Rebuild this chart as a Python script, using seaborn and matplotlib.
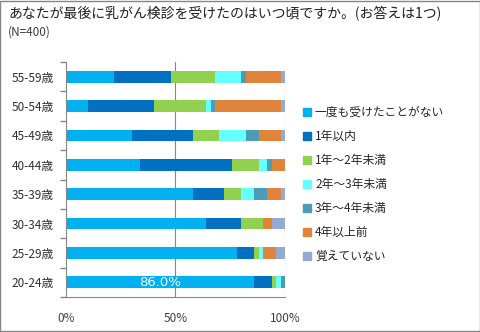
import matplotlib
matplotlib.use("Agg")
import matplotlib.pyplot as plt
from matplotlib.lines import Line2D
from matplotlib.patches import Rectangle
import seaborn as sns
import pandas as pd
import numpy as np

ages = ["55-59歳", "50-54歳", "45-49歳", "40-44歳", "35-39歳", "30-34歳", "25-29歳", "20-24歳"]
series = ["一度も受けたことがない", "1年以内", "1年～2年未満", "2年～3年未満",
          "3年～4年未満", "4年以上前", "覚えていない"]
never = [22, 10, 30, 34, 58, 64, 78, 86]
within1 = [26, 30, 28, 42, 14, 16, 8, 8]
y1to2 = [20, 24, 12, 12, 8, 10, 2, 2]
y2to3 = [12, 2, 12, 4, 6, 0, 2, 2]
y3to4 = [2, 2, 6, 2, 6, 0, 0, 2]
y4plus = [16, 30, 10, 6, 6, 4, 6, 0]
unknown = [2, 2, 2, 0, 2, 6, 4, 0]
colors = ["#00B0F0", "#0070C0", "#92D050", "#66FFFF", "#4A9DB4", "#E0843C", "#95A9D3"]

sns.set_theme(style="white")
plt.rcParams["font.family"] = ["Noto Sans CJK JP", "DejaVu Sans"]

values = [never, within1, y1to2, y2to3, y3to4, y4plus, unknown]
df = pd.DataFrame({s: v for s, v in zip(series, values)}, index=ages)
cum = df.cumsum(axis=1)

fig = plt.figure(figsize=(4.81, 3.32), dpi=100)
ax = fig.add_axes([66 / 481, 1 - 297 / 332, 219 / 481, 235 / 332])

# draw stacked bars: largest cumulative first
for i in range(len(series) - 1, -1, -1):
    s = series[i]
    d = pd.DataFrame({"age": ages, "val": cum[s].values})
    sns.barplot(data=d, x="val", y="age", order=ages, orient="h",
                color=colors[i], saturation=1, width=0.4, ax=ax, linewidth=0)

ax.set_xlim(0, 100)
ax.set_ylim(7.5, -0.5)
ax.set_xlabel("")
ax.set_ylabel("")
ax.set_xticks([0, 50, 100])
ax.set_xticklabels(["0%", "50%", "100%"], fontsize=8.5, color="#404040")
ax.tick_params(axis="x", length=4, color="#868686", pad=7, direction="out")
ax.set_yticks(range(len(ages)))
ax.set_yticklabels(ages, fontsize=8.5, color="#303030")
ax.tick_params(axis="y", length=0, pad=9)
ax.set_yticks(np.arange(-0.5, 8, 1), minor=True)
ax.tick_params(axis="y", which="minor", length=4, color="#868686", direction="out", left=True)
for v in [50, 100]:
    ax.axvline(v, color="#868686", lw=0.8, zorder=0)
for side in ["top", "right"]:
    ax.spines[side].set_visible(False)
for side in ["left", "bottom"]:
    ax.spines[side].set_color("#868686")
    ax.spines[side].set_linewidth(0.8)

ax.text(never[-1] / 2, 7, f"{never[-1]:.1f}%", color="white", fontsize=9.5,
        ha="center", va="center", family=["DejaVu Sans"])

fig.text(8 / 481, 1 - 14 / 332, "あなたが最後に乳がん検診を受けたのはいつ頃ですか。(お答えは1つ)",
         fontsize=10, va="center", ha="left", color="#202020")
fig.text(8 / 481, 1 - 32 / 332, "(N=400)", fontsize=8.5, va="center", ha="left", color="#404040")

handles = [Line2D([0], [0], marker="s", linestyle="", markersize=5.5,
                  markerfacecolor=c, markeredgecolor=c) for c in colors]
fig.legend(handles, series, loc="upper left", bbox_to_anchor=(302 / 481, 1 - 106 / 332),
           frameon=False, fontsize=8.5, handlelength=0.8, handletextpad=0.3,
           labelspacing=0.93, borderaxespad=0, borderpad=0)

fig.patches.append(Rectangle((0.001, 0.002), 0.997, 0.996, transform=fig.transFigure,
                             fill=False, edgecolor="#868686", linewidth=1))

fig.savefig("out.png", dpi=100)
